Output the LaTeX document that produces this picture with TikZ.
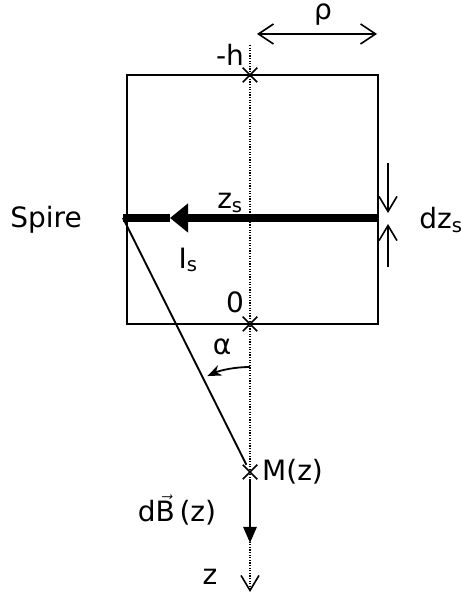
\documentclass[tikz,border=0pt]{standalone}
\usepackage{fontspec}
\setmainfont{DejaVu Sans}
\usepackage{amsmath}
\usetikzlibrary{arrows.meta,shapes.misc}

\begin{document}
\begin{tikzpicture}[x=1pt,y=1pt,
  lbl/.style={font=\fontsize{28}{32}\selectfont,inner sep=0pt},
  xmark/.style={cross out,draw,minimum size=13pt,inner sep=0pt,line width=1.5pt},
  wire/.style={line width=1.8pt},
  axisline/.style={line width=1.5pt,dash pattern=on 1.3pt off 1.3pt},
  vtip/.style={-{Straight Barb[length=15pt,width=18pt,line width=1.6pt]}},
]
  \useasboundingbox (0,0) rectangle (462,594);

  % axis and solenoid section
  \coordinate (axtop) at (250,549);
  \coordinate (axbot) at (250,2);
  \coordinate (tl) at (127,519);
  \coordinate (br) at (378,270);
  \draw[axisline,vtip] (axtop) -- (axbot);
  \draw[wire] (tl) rectangle (br);
  \node[xmark] (top) at (250,519) {};
  \node[xmark] (orig) at (250,270) {};
  \node[xmark] (M) at (250,122) {};

  % the loop
  \coordinate (sl) at (123,376);
  \coordinate (sr) at (378,376);
  \coordinate (stip) at (170,376);
  \draw[line width=8.5pt,-{Triangle[length=18pt,width=28pt]}] (sr) -- (stip);
  \draw[line width=8.5pt] (stip) -- (sl);
  \draw[wire] (sl) -- (M);

  % dz_s
  \coordinate (dzhi) at (388,431);
  \coordinate (dzup) at (388,381);
  \coordinate (dzdn) at (388,370);
  \coordinate (dzlo) at (388,327);
  \draw[wire,vtip] (dzhi) -- (dzup);
  \draw[wire,vtip] (dzlo) -- (dzdn);

  % rho
  \coordinate (rl) at (257,560);
  \coordinate (rr) at (377,560);
  \draw[wire,{Straight Barb[length=15pt,width=20pt,line width=1.6pt]}-{Straight Barb[length=15pt,width=20pt,line width=1.6pt]}] (rl) -- (rr);

  % angle and field
  \coordinate (a0) at (250,227);
  \draw[wire,-{Stealth[length=14pt,width=11pt]}] (a0) arc[start angle=90,end angle=114,radius=105];
  \coordinate (dBend) at (250,51);
  \draw[line width=2.8pt,-{Triangle[length=16pt,width=13pt]}] (M) -- (dBend);

  % labels
  \node[lbl] (spire) at (46,374) {Spire};
  \node[lbl] (dzs) at (441,374) {dz\textsubscript{s}};
  \node[lbl] (zs) at (230,391) {z\textsubscript{s}};
  \node[lbl] (Is) at (188,334) {I\textsubscript{s}};
  \node[lbl] (zero) at (235,292) {0};
  \node[lbl] (mh) at (230,539) {-h};
  \node[lbl] (rho) at (323,579) {ρ};
  \node[lbl] (alpha) at (222,247) {α};
  \node[lbl,anchor=west] (Mz) at (262,122) {M(z)};
  \node[lbl] (dB) at (177,84) {d$\vec{\text{B}}$\,(z)};
  \node[lbl] (zlab) at (210,17) {z};
\end{tikzpicture}
\end{document}
